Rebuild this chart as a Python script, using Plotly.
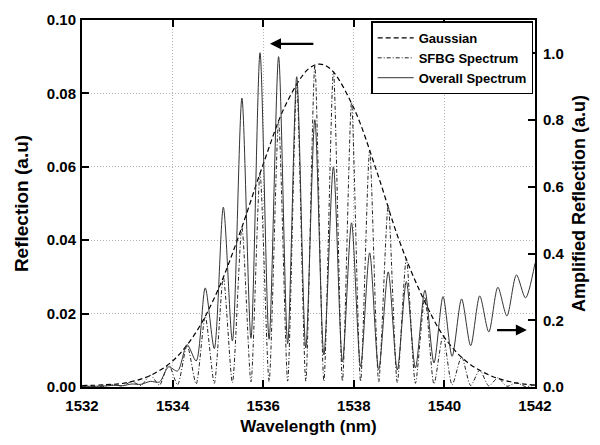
import plotly.graph_objects as go

# ---------------- data ----------------
# Gaussian envelope (left axis)
wl_gauss = [1532.0, 1532.5, 1533.0, 1533.5, 1534.0, 1534.5, 1535.0, 1535.5, 1536.0, 1536.5,
            1537.0, 1537.25, 1537.5, 1538.0, 1538.5, 1539.0, 1539.5, 1540.0, 1540.5, 1541.0,
            1541.5, 1542.0]
gauss = [0.0004, 0.0006, 0.0012, 0.0031, 0.0071, 0.0146, 0.0264, 0.0425, 0.0607, 0.0770,
         0.0867, 0.0880, 0.0865, 0.0760, 0.0590, 0.0400, 0.0250, 0.0135, 0.0068, 0.0032,
         0.0013, 0.0005]

# SFBG spectrum (left axis): alternating valleys / peaks
wl_sfbg = [1532.00, 1532.49, 1532.70, 1532.90, 1533.10, 1533.30, 1533.51, 1533.71, 1533.91,
           1534.11, 1534.32, 1534.52, 1534.72, 1534.92, 1535.12, 1535.32, 1535.53, 1535.73,
           1535.93, 1536.13, 1536.34, 1536.54, 1536.74, 1536.94, 1537.14, 1537.34, 1537.55,
           1537.75, 1537.95, 1538.15, 1538.35, 1538.55, 1538.76, 1538.96, 1539.16, 1539.36,
           1539.57, 1539.77, 1539.97, 1540.17, 1540.38, 1540.58, 1540.78, 1540.98, 1541.18,
           1541.38, 1541.59, 1541.79, 1541.99]
sfbg = [0.0001, 0.0002, 0.0006, 0.0003, 0.0015, 0.0004, 0.0032, 0.0005, 0.0062,
        0.0006, 0.0114, 0.0008, 0.0192, 0.0010, 0.0299, 0.0012, 0.0435, 0.0014,
        0.0581, 0.0015, 0.0723, 0.0016, 0.0827, 0.0016, 0.0877, 0.0016, 0.0861,
        0.0016, 0.0775, 0.0015, 0.0645, 0.0014, 0.0495, 0.0012, 0.0350, 0.0010,
        0.0245, 0.0008, 0.0140, 0.0006, 0.0082, 0.0004, 0.0046, 0.0003, 0.0025,
        0.0002, 0.0012, 0.0001, 0.0006]

# Overall (amplified) spectrum (right axis): alternating valleys / peaks
wl_overall = [1532.00, 1532.49, 1532.70, 1532.90, 1533.10, 1533.30, 1533.51, 1533.71, 1533.91,
              1534.11, 1534.32, 1534.52, 1534.72, 1534.92, 1535.12, 1535.32, 1535.53, 1535.73,
              1535.93, 1536.13, 1536.34, 1536.54, 1536.74, 1536.94, 1537.14, 1537.34, 1537.55,
              1537.75, 1537.95, 1538.15, 1538.35, 1538.55, 1538.76, 1538.96, 1539.16, 1539.36,
              1539.57, 1539.77, 1539.97, 1540.17, 1540.38, 1540.58, 1540.78, 1540.98, 1541.18,
              1541.38, 1541.59, 1541.79, 1542.00]
overall = [0.002, 0.003, 0.005, 0.004, 0.009, 0.008, 0.017, 0.015, 0.060,
           0.048, 0.127, 0.078, 0.297, 0.115, 0.539, 0.138, 0.866, 0.146,
           1.002, 0.143, 0.990, 0.130, 0.930, 0.117, 0.801, 0.096, 0.660,
           0.075, 0.492, 0.061, 0.402, 0.052, 0.345, 0.051, 0.316, 0.057,
           0.290, 0.072, 0.271, 0.092, 0.264, 0.124, 0.273, 0.165, 0.299,
           0.213, 0.336, 0.267, 0.371]

x_ticks = [1532, 1534, 1536, 1538, 1540, 1542]
left_ticks = [0.00, 0.02, 0.04, 0.06, 0.08, 0.10]
right_ticks = [0.0, 0.2, 0.4, 0.6, 0.8, 1.0]

# arrows (data coordinates, left axis)
arrow_left = dict(tail_x=1537.14, head_x=1536.15, y=0.0935)
arrow_right = dict(tail_x=1541.13, head_x=1541.82, y=0.0155)

FONT = "Liberation Sans, Arial, Helvetica, sans-serif"
GRID = "#b4b4b4"

fig = go.Figure()
fig.add_trace(go.Scatter(
    x=wl_gauss, y=gauss, name="Gaussian", mode="lines",
    line=dict(color="black", width=1.2, dash="5px,3px", shape="spline", smoothing=1.0)))
fig.add_trace(go.Scatter(
    x=wl_sfbg, y=sfbg, name="SFBG Spectrum", mode="lines",
    line=dict(color="#222222", width=1, dash="4px,2px,1px,2px", shape="spline", smoothing=0.7)))
fig.add_trace(go.Scatter(
    x=wl_overall, y=overall, name="Overall Spectrum", mode="lines", yaxis="y2",
    line=dict(color="#333333", width=1, shape="spline", smoothing=0.8)))

for a in (arrow_left, arrow_right):
    fig.add_annotation(x=a["head_x"], y=a["y"], ax=a["tail_x"], ay=a["y"],
                       xref="x", yref="y", axref="x", ayref="y",
                       showarrow=True, arrowhead=2, arrowsize=1, arrowwidth=2.2,
                       arrowcolor="black", text="")

fig.update_layout(
    width=600, height=445,
    margin=dict(l=74, r=73, t=12, b=66),
    paper_bgcolor="white", plot_bgcolor="white",
    font=dict(family=FONT, size=15, color="black", weight="bold"),
    showlegend=True,
    legend=dict(x=0.996, y=0.996, xanchor="right", yanchor="top",
                bgcolor="white", bordercolor="black", borderwidth=1.5,
                font=dict(family=FONT, size=13, color="black", weight="bold"),
                tracegroupgap=0, itemwidth=36),
    xaxis=dict(range=[1532, 1542], tickvals=x_ticks, ticks="inside", ticklen=7,
               tickwidth=1.5, tickcolor="black", showline=True, linecolor="black",
               linewidth=2, mirror="ticks", showgrid=True, gridcolor=GRID,
               griddash="1px,2px", gridwidth=1, zeroline=False, automargin=False,
               tickfont=dict(family=FONT, size=15, weight="bold"), ticklabelstandoff=4,
               title=dict(text="Wavelength (nm)", standoff=7,
                          font=dict(family=FONT, size=17, weight="bold"))),
    yaxis=dict(range=[0, 0.1], tickvals=left_ticks, tickformat=".2f", ticks="inside",
               ticklen=7, tickwidth=1.5, tickcolor="black", showline=True,
               linecolor="black", linewidth=2, showgrid=True, gridcolor=GRID,
               griddash="1px,2px", gridwidth=1, zeroline=False, automargin=False,
               tickfont=dict(family=FONT, size=15, weight="bold"), ticklabelstandoff=1,
               title=dict(text="Reflection (a.u)", standoff=13,
                          font=dict(family=FONT, size=19, weight="bold"))),
    yaxis2=dict(range=[0, 1.1], tickvals=right_ticks, tickformat=".1f", overlaying="y",
                side="right", ticks="inside", ticklen=7, tickwidth=1.5, tickcolor="black",
                showline=True, linecolor="black", linewidth=2, showgrid=False,
                zeroline=False, automargin=False,
                tickfont=dict(family=FONT, size=15, weight="bold"), ticklabelstandoff=3,
                title=dict(text="Amplified Reflection (a.u)", standoff=9,
                           font=dict(family=FONT, size=18, weight="bold"))),
)

fig.write_html("out.html")
